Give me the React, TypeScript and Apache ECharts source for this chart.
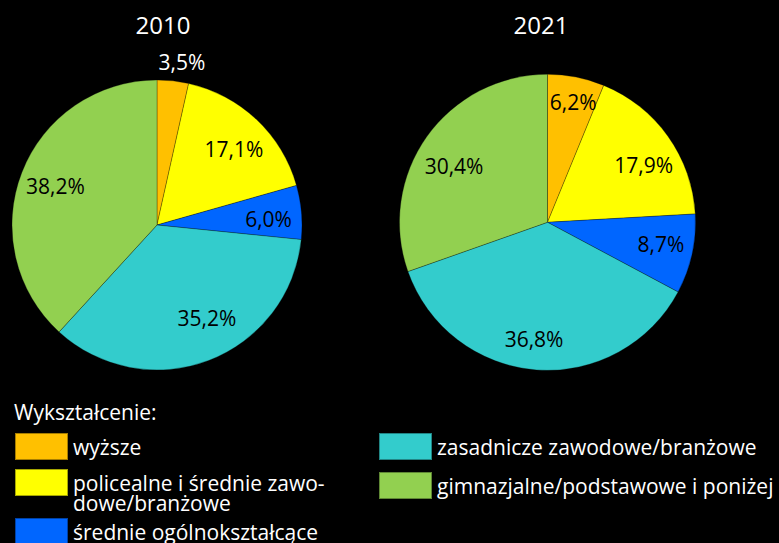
import React, { useEffect, useRef } from "react";
import * as echarts from "echarts";

const categories = [
  "wyższe",
  "policealne i średnie zawodowe/branżowe",
  "średnie ogólnokształcące",
  "zasadnicze zawodowe/branżowe",
  "gimnazjalne/podstawowe i poniżej",
];
const years = ["2010", "2021"];
const values2010 = [3.5, 17.1, 6.0, 35.2, 38.2];
const values2021 = [6.2, 17.9, 8.7, 36.8, 30.4];
const colors = ["#FFC000", "#FFFF00", "#0066FF", "#33CCCC", "#92D050"];
const legendTitle = "Wykształcenie:";
const wrappedLegendText = "policealne i średnie zawo-\ndowe/branżowe";

const FONT = "Open Sans";

// layout / style (not data)
const pieLayouts = [
  {
    center: [157, 225],
    r: 145,
    labelR: 106,
    offsets: [[13, -55], [2, 3], [3, 4], [11, -9], [0, 0]],
    labelColors: ["#ffffff", "#000", "#000", "#000", "#000"],
    titleX: 163,
  },
  {
    center: [547.5, 222.3],
    r: 148,
    labelR: 109,
    offsets: [[4, -10], [5, 8], [4, -2], [-5, 5], [-2, 8]],
    labelColors: ["#000", "#000", "#000", "#000", "#000"],
    titleX: 541,
  },
];

const fmt = (v: number) => v.toFixed(1).replace(".", ",") + "%";

export default function App() {
  const ref = useRef<HTMLDivElement>(null);
  useEffect(() => {
    if (!ref.current) return;
    const chart = echarts.init(ref.current, undefined, { renderer: "svg" });
    const allValues = [values2010, values2021];

    const series: any[] = [];
    allValues.forEach((vals, i) => {
      const L = pieLayouts[i];
      series.push({
        type: "pie",
        name: years[i],
        center: L.center,
        radius: [0, L.r],
        startAngle: 90,
        clockwise: true,
        silent: true,
        label: { show: false },
        labelLine: { show: false },
        itemStyle: { borderColor: "rgba(0,0,0,0.35)", borderWidth: 0.8 },
        data: vals.map((v, k) => ({
          name: categories[k],
          value: v,
          itemStyle: { color: colors[k] },
        })),
      });
    });
    allValues.forEach((vals, i) => {
      const L = pieLayouts[i];
      series.push({
        type: "pie",
        name: years[i] + "-labels",
        center: L.center,
        radius: [2 * L.labelR - L.r, L.r],
        startAngle: 90,
        clockwise: true,
        silent: true,
        legendHoverLink: false,
        itemStyle: { color: "transparent", borderWidth: 0 },
        labelLine: { show: false },
        label: {
          show: true,
          position: "inside",
          fontFamily: FONT,
          fontSize: 21,
          color: "#000",
          formatter: (p: any) => fmt(p.value),
        },
        data: vals.map((v, k) => ({
          name: categories[k],
          value: v,
          itemStyle: { color: "transparent" },
          label: { offset: L.offsets[k], color: L.labelColors[k] },
        })),
      });
    });

    const legendBase = {
      orient: "vertical",
      icon: "rect",
      itemWidth: 53,
      itemHeight: 27,
      itemGap: 10,
      padding: 0,
      selectedMode: false,
      textStyle: {
        color: "#ffffff",
        fontFamily: FONT,
        fontSize: 21,
        lineHeight: 20,
      },
    };

    chart.setOption({
      animation: false,
      backgroundColor: "#000000",
      title: [
        ...years.map((y, i) => ({
          text: y,
          left: pieLayouts[i].titleX,
          top: 12,
          padding: 0,
          textAlign: "center",
          textStyle: { color: "#ffffff", fontFamily: FONT, fontSize: 24, fontWeight: "normal" },
        })),
        {
          text: legendTitle,
          left: 14,
          top: 401,
          padding: 0,
          textStyle: { color: "#ffffff", fontFamily: FONT, fontSize: 21, fontWeight: "normal" },
        },
      ],
      legend: [
        { ...legendBase, left: 14, top: 432, data: [categories[0]] },
        {
          ...legendBase,
          left: 14,
          top: 452,
          data: [categories[1]],
          formatter: () => "\n" + wrappedLegendText,
        },
        { ...legendBase, left: 14, top: 517, data: [categories[2]] },
        { ...legendBase, left: 378, top: 432, data: [categories[3], categories[4]] },
      ],
      series,
    });
    return () => chart.dispose();
  }, []);
  return (
    <div
      ref={ref}
      style={{ position: "fixed", left: 0, top: 0, width: 779, height: 543 }}
    />
  );
}
